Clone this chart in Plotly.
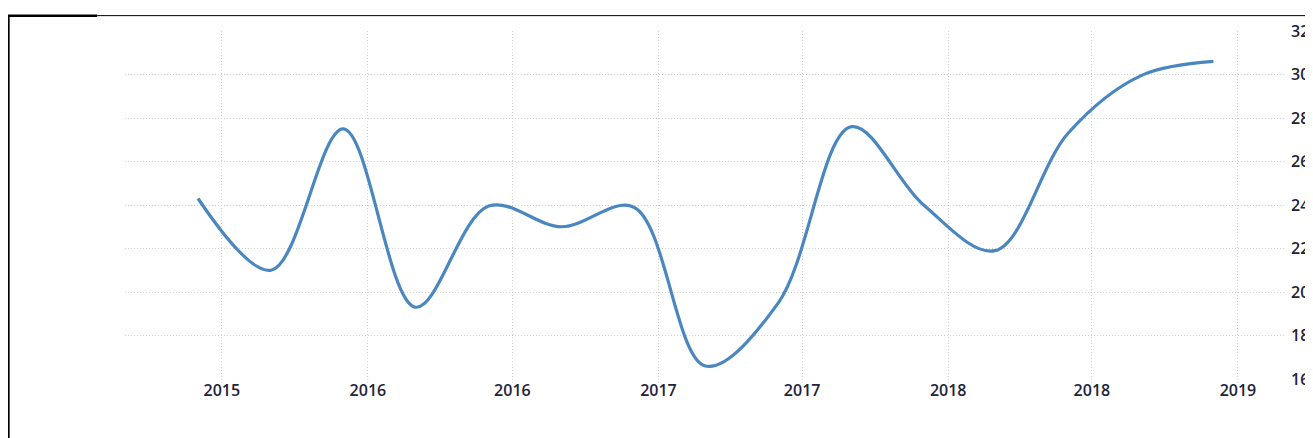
import plotly.graph_objects as go

dates = ["2015-06-01", "2015-09-01", "2015-12-01", "2016-03-01", "2016-06-01",
         "2016-09-01", "2016-12-01", "2017-03-01", "2017-06-01", "2017-09-01",
         "2017-12-01", "2018-03-01", "2018-06-01", "2018-09-01", "2018-12-01"]
values = [24.3, 21.0, 27.5, 19.3, 23.95, 23.0, 23.9, 16.6, 19.5, 27.6,
          24.0, 21.9, 27.3, 29.95, 30.6]
tick_dates = ["2015-07-01", "2016-01-01", "2016-07-01", "2017-01-01",
              "2017-07-01", "2018-01-01", "2018-07-01", "2019-01-01"]
y_ticks = [16, 18, 20, 22, 24, 26, 28, 30, 32]

# page body has an 8px margin; coordinates below are relative to the figure
OFF = 8
W, H = 1313, 438
L, R, T, B = 125 - OFF, 1288 - OFF, 28 - OFF, 379 - OFF

def px(x):
    return (x - OFF - L) / (R - L)

def py(y):
    return (B - (y - OFF)) / (B - T)

fig = go.Figure()
fig.add_trace(go.Scatter(
    x=dates, y=values, mode="lines",
    line=dict(color="#4a86bf", width=3.2, shape="spline", smoothing=1.0),
    hoverinfo="x+y", showlegend=False,
))

font = dict(family="Open Sans, DejaVu Sans, sans-serif", size=16, color="#22223a", weight=600)
grid = "#cfcfcf"

fig.update_layout(
    width=W, height=H,
    margin=dict(l=L, r=W - R, t=T, b=H - B, pad=0),
    paper_bgcolor="white", plot_bgcolor="white",
    xaxis=dict(
        type="date", range=["2015-03-01", "2019-02-28"],
        tickvals=tick_dates, tickformat="%Y",
        showgrid=True, gridcolor=grid, griddash="1px,2px", gridwidth=1,
        ticks="", ticklabelstandoff=0,
        showline=False, zeroline=False, tickfont=font,
    ),
    yaxis=dict(
        range=[16, 32], tickvals=y_ticks, side="right",
        showgrid=True, gridcolor=grid, griddash="1px,2px", gridwidth=1,
        ticks="", ticklabelstandoff=6,
        showline=False, zeroline=False, tickfont=font,
    ),
    shapes=[
        dict(type="line", xref="paper", yref="paper",
             x0=px(8), x1=px(8), y0=py(12), y1=py(450),
             line=dict(color="black", width=2.5)),
        dict(type="line", xref="paper", yref="paper",
             x0=px(7), x1=px(97), y0=py(12.5), y1=py(12.5),
             line=dict(color="black", width=2.5)),
        dict(type="line", xref="paper", yref="paper",
             x0=px(97), x1=px(1330), y0=py(12.5), y1=py(12.5),
             line=dict(color="black", width=1)),
    ] + [
        dict(type="line", xref="x", yref="paper", x0=d, x1=d,
             y0=0, y1=py(385), line=dict(color=grid, width=1, dash="1px,2px"))
        for d in tick_dates
    ],
)

fig.write_html("out.html")
